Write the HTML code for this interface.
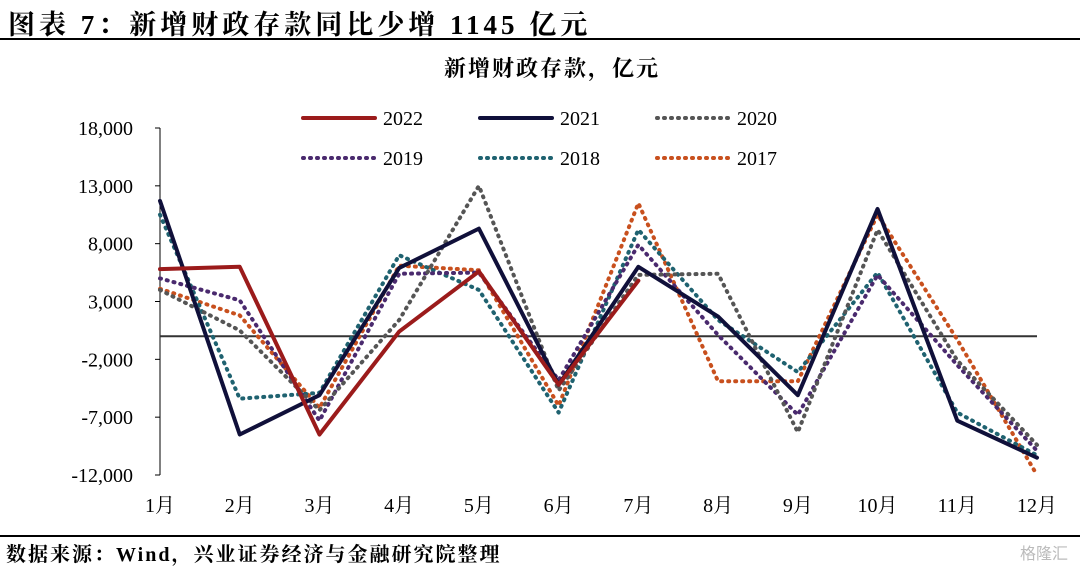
<!DOCTYPE html>
<html><head><meta charset="utf-8"><style>
body{margin:0;width:1080px;height:564px;background:#fff;overflow:hidden;font-family:"Liberation Serif","Noto Serif CJK SC",serif;}
#title{position:absolute;left:8px;top:3px;font-size:27px;letter-spacing:4px;font-weight:bold;color:#000;white-space:nowrap;}
#rule1{position:absolute;left:0;top:38px;width:1080px;height:2px;background:#000;}
#rule2{position:absolute;left:0;top:535px;width:1080px;height:2px;background:#000;}
#source{position:absolute;left:6px;top:538px;font-size:20px;letter-spacing:2px;font-weight:bold;white-space:nowrap;}
#wm{position:absolute;right:12px;top:540px;font-size:16px;color:#bbb;font-family:"Liberation Sans","Noto Sans CJK SC",sans-serif;}
svg{position:absolute;left:0;top:0}
</style></head><body>
<div id="title">图表 7：新增财政存款同比少增 1145 亿元</div>
<div id="rule1"></div>
<svg id="chart" width="1080" height="564"></svg>
<div id="rule2"></div>
<div id="source">数据来源：Wind，兴业证券经济与金融研究院整理</div>
<div id="wm">格隆汇</div>
<script>
const categories=["1月","2月","3月","4月","5月","6月","7月","8月","9月","10月","11月","12月"];
const yTicks=[18000,13000,8000,3000,-2000,-7000,-12000];
const yTickLabels=["18,000","13,000","8,000","3,000","-2,000","-7,000","-12,000"];
const seriesNames=["2022","2021","2020","2019","2018","2017"];
const s2022=[5800,6000,-8500,400,5600,-4200,4800];
const s2021=[11700,-8500,-5100,5900,9300,-4200,6000,1700,-5100,11000,-7300,-10500];
const s2020=[4000,500,-6400,1400,13000,-4700,5300,5400,-8300,9200,-2100,-9400];
const s2019=[5000,3100,-7300,5400,5500,-3800,7900,100,-6800,5300,-2500,-9900];
const s2018=[10500,-5400,-4900,7000,4000,-6600,9200,1400,-3100,5500,-6600,-10300];
const s2017=[4100,1800,-6200,6100,5700,-6000,11500,-3900,-3900,10500,-300,-12000];
const NS="http://www.w3.org/2000/svg";
const svg=document.getElementById('chart');
const x0=160,x1=1037,yTop=128,yBot=475,vMax=18000,vMin=-12000;
const xs=i=>x0+(x1-x0)*i/(categories.length-1);
const ys=v=>yTop+(vMax-v)/(vMax-vMin)*(yBot-yTop);
function mk(t,a){const e=document.createElementNS(NS,t);for(const k in a)e.setAttribute(k,a[k]);svg.appendChild(e);return e;}
let t=mk('text',{x:552,y:76,'text-anchor':'middle','font-size':22,'font-weight':'bold','letter-spacing':2});t.textContent='新增财政存款，亿元';


let ya=mk('line',{x1:x0,y1:yTop,x2:x0,y2:yBot,stroke:'#000','stroke-width':1});


yTicks.forEach((v,i)=>{
  const tk=mk('line',{x1:x0-5,y1:ys(v),x2:x0,y2:ys(v),stroke:'#000'});
  
  
  const l=mk('text',{x:133,y:ys(v)+7,'text-anchor':'end','font-size':20});l.textContent=yTickLabels[i];
  
  
});
let xa=mk('line',{x1:x0,y1:ys(0),x2:x1,y2:ys(0),stroke:'#333','stroke-width':2});


categories.forEach((c,i)=>{
  const l=mk('text',{x:xs(i),y:512,'text-anchor':'middle','font-size':20,'font-family':'"Liberation Serif","Noto Serif CJK SC",serif'});l.textContent=c;
  
  
});
const styles=[
 {d:s2022,c:'#9b1b1b',w:4,dash:null},
 {d:s2021,c:'#10103a',w:4,dash:null},
 {d:s2020,c:'#555555',w:4,dash:'1 6'},
 {d:s2019,c:'#4a2a6e',w:4,dash:'1 6'},
 {d:s2018,c:'#1f6270',w:4,dash:'1 6'},
 {d:s2017,c:'#c8501e',w:4,dash:'1 6'}];
styles.slice().reverse().forEach((s,ri)=>{
  const idx=styles.length-1-ri;
  const p=mk('polyline',{points:s.d.map((v,i)=>xs(i)+','+ys(v)).join(' '),fill:'none',stroke:s.c,'stroke-width':s.w,'stroke-linecap':'round','stroke-linejoin':'round'});
  if(s.dash)p.setAttribute('stroke-dasharray',s.dash);
  
  
});
const legPos=[[303,118],[480,118],[657,118],[303,158],[480,158],[657,158]];
styles.forEach((s,i)=>{
  const [lx,ly]=legPos[i];
  const l=mk('line',{x1:lx,y1:ly,x2:lx+72,y2:ly,stroke:s.c,'stroke-width':4,'stroke-linecap':'round'});
  if(s.dash)l.setAttribute('stroke-dasharray',s.dash);
  
  
  const tx=mk('text',{x:lx+80,y:ly+7,'font-size':20});tx.textContent=seriesNames[i];
  
  
});
</script>
</body></html>
